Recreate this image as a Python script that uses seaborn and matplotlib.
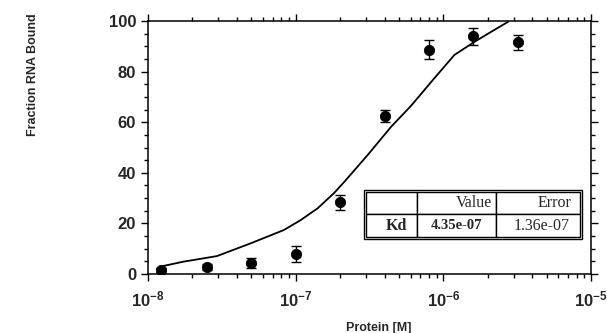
import numpy as np
import matplotlib
matplotlib.use('Agg')
import matplotlib.pyplot as plt
import seaborn as sns
from matplotlib.ticker import MultipleLocator, LogLocator
from matplotlib.patches import Rectangle

# measured points
protein = [1.23e-8, 2.5e-8, 5e-8, 1e-7, 2e-7, 4e-7, 8e-7, 1.6e-6, 3.2e-6]
bound = [1.6, 2.9, 4.4, 7.9, 28.3, 62.4, 88.6, 94.0, 91.5]
bound_err = [0.8, 1.2, 2.0, 3.2, 2.8, 2.3, 3.7, 3.4, 3.0]

# fitted curve
fit_x = [1.27e-8, 1.74e-8, 2.93e-8, 4.94e-8, 8.32e-8, 1.08e-7, 1.41e-7,
         1.82e-7, 2.14e-7, 3.07e-7, 4.43e-7, 6.05e-7, 8.73e-7, 1.19e-6,
         1.63e-6, 2.12e-6, 2.75e-6]
fit_y = [3.2, 4.9, 7.1, 12.1, 17.4, 21.3, 26.0,
         32.0, 36.5, 47.0, 58.2, 66.5, 77.5, 86.6,
         91.8, 95.8, 99.7]

table_cols = ['', 'Value', 'Error']
table_rows = [['Kd', '4.35e-07', '1.36e-07']]

sns.set_style('ticks')
plt.rcParams['font.family'] = ['Liberation Sans', 'DejaVu Sans']
plt.rcParams['mathtext.fontset'] = 'custom'
plt.rcParams['mathtext.bf'] = 'Liberation Sans:bold'
plt.rcParams['mathtext.rm'] = 'Liberation Sans:bold'
plt.rcParams['mathtext.default'] = 'bf'

fig = plt.figure(figsize=(6.07, 3.33), dpi=100)
ax = fig.add_axes([0.2438, 0.177, 0.7298, 0.760])

sns.lineplot(x=fit_x, y=fit_y, ax=ax, color='black', linewidth=1.3)
ax.errorbar(protein, bound, yerr=bound_err, fmt='none', ecolor='black',
            elinewidth=1.0, capsize=3.5, capthick=1.0)
sns.scatterplot(x=protein, y=bound, ax=ax, color='black', s=55,
                edgecolor='black', zorder=5)

ax.set_xscale('log')
ax.set_xlim(1e-8, 1e-5)
ax.set_ylim(0, 100)
ax.yaxis.set_major_locator(MultipleLocator(20))
ax.yaxis.set_minor_locator(MultipleLocator(5))
ax.xaxis.set_minor_locator(LogLocator(subs=np.arange(2, 10)))
ax.tick_params(which='both', top=True, right=True, direction='out',
               color='black', width=1.0)
ax.tick_params(which='major', length=5, labelsize=12)
ax.tick_params(axis='x', which='major', pad=6)
ax.tick_params(which='minor', length=3)
plt.setp(ax.get_yticklabels(), fontweight='bold')
plt.setp(ax.get_xticklabels(), fontweight='bold')
for s in ax.spines.values():
    s.set_linewidth(1.1)
    s.set_color('black')

ax.set_xlabel('Protein [M]', fontsize=9, fontweight='bold')
ax.set_ylabel('Fraction RNA Bound', fontsize=9, fontweight='bold')
ax.xaxis.set_label_coords(0.52, -0.19)
ax.yaxis.set_label_coords(-0.245, 0.787)

# fit result table
tb = ax.table(cellText=table_rows, colLabels=table_cols,
              colWidths=[0.237, 0.369, 0.394], cellLoc='right',
              colLoc='right', bbox=[0.492, 0.147, 0.483, 0.178])
tb.auto_set_font_size(False)
pads = {(0, 1): 0.05, (0, 2): 0.10, (1, 0): 0.18, (1, 2): 0.12}
for (r, c), cell in tb.get_celld().items():
    cell.set_linewidth(1.0)
    cell.set_facecolor('white')
    cell.PAD = pads.get((r, c), 0.05)
    cell.get_text().set_fontfamily('Liberation Serif')
    cell.get_text().set_fontsize(11.5)
    if r == 1 and c in (0, 1):
        cell.get_text().set_fontweight('bold')
    if r == 1 and c == 1:
        cell.get_text().set_fontsize(10.5)
        cell.get_text().set_ha('center')
        cell._loc = 'center'
ax.add_patch(Rectangle((0.487, 0.139), 0.493, 0.194, transform=ax.transAxes,
                       fill=False, linewidth=1.0, edgecolor='black', zorder=6))

fig.savefig('out.png', dpi=100)
